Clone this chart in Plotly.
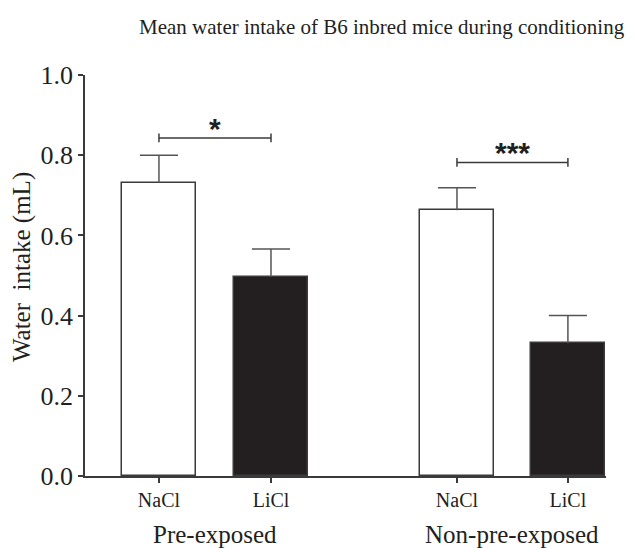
import plotly.graph_objects as go

# ---- data ----
groups = ["Pre-exposed", "Non-pre-exposed"]
categories = ["NaCl", "LiCl", "NaCl", "LiCl"]
means = [0.731, 0.497, 0.663, 0.331]
sem = [0.069, 0.069, 0.056, 0.069]
sig_levels = [0.843, 0.782]
sig_labels = ["*", "***"]
y_ticks = [0.0, 0.2, 0.4, 0.6, 0.8, 1.0]
title_text = "Mean water intake of B6 inbred mice during conditioning"
y_title = "Water  intake (mL)"

# ---- layout constants ----
positions = [0, 1, 2.66, 3.65]
fills = ["#ffffff", "#231f20", "#ffffff", "#231f20"]
SERIF = "Liberation Serif"
TXT = "#231f20"
CAP = 0.17  # half cap width in x units

fig = go.Figure()
fig.add_trace(go.Bar(
    x=positions, y=means, width=0.66,
    marker=dict(color=fills, line=dict(color="#3a3a3a", width=1.5)),
    showlegend=False, hoverinfo="skip",
))

# upward-only error bars
ex, ey = [], []
for p, m, s in zip(positions, means, sem):
    ex += [p, p, None, p - CAP, p + CAP, None]
    ey += [m, m + s, None, m + s, m + s, None]
fig.add_trace(go.Scatter(x=ex, y=ey, mode="lines",
                         line=dict(color="#555555", width=1.5),
                         showlegend=False, hoverinfo="skip"))

# significance brackets
cap = 0.011
for i, (lvl, lab) in enumerate(zip(sig_levels, sig_labels)):
    x0, x1 = positions[2 * i], positions[2 * i + 1]
    fig.add_shape(type="line", x0=x0, x1=x1, y0=lvl, y1=lvl,
                  line=dict(color="#3a3a3a", width=1.5))
    for xx in (x0, x1):
        fig.add_shape(type="line", x0=xx, x1=xx, y0=lvl - cap, y1=lvl + cap,
                      line=dict(color="#3a3a3a", width=1.5))
    fig.add_annotation(x=(x0 + x1) / 2, y=lvl, text="<b>%s</b>" % lab,
                       showarrow=False, yanchor="bottom", yshift=-9,
                       font=dict(family="Liberation Sans", size=30, color=TXT))

# group labels
for i, g in enumerate(groups):
    fig.add_annotation(x=(positions[2 * i] + positions[2 * i + 1]) / 2,
                       xref="x", yref="paper", y=-0.147, yanchor="middle",
                       text=g, showarrow=False,
                       font=dict(family=SERIF, size=25, color=TXT))

# y title
fig.add_annotation(xref="paper", yref="paper", x=-0.121, y=0.521,
                   text=y_title, textangle=-90, showarrow=False,
                   xanchor="center", yanchor="middle",
                   font=dict(family=SERIF, size=25, color=TXT))

# title
fig.add_annotation(xref="paper", yref="paper", x=0.57, y=1.0, yshift=48,
                   text=title_text, showarrow=False, xanchor="center",
                   yanchor="middle",
                   font=dict(family=SERIF, size=21, color=TXT))

fig.update_layout(
    width=639, height=548,
    margin=dict(l=85, r=33, t=75, b=72),
    plot_bgcolor="white", paper_bgcolor="white",
    bargap=0,
)
fig.update_xaxes(
    range=[-0.66, 3.99], tickvals=positions, ticktext=categories,
    showline=True, linecolor="#3a3a3a", linewidth=1.5,
    ticks="outside", ticklen=5, tickcolor="#3a3a3a", tickwidth=1.5,
    tickfont=dict(family=SERIF, size=20, color=TXT),
    showgrid=False, zeroline=False,
)
fig.update_yaxes(
    range=[0, 1.0], tickvals=y_ticks, tickformat=".1f",
    showline=True, linecolor="#3a3a3a", linewidth=1.5,
    ticks="outside", ticklen=5, tickcolor="#3a3a3a", tickwidth=1.5,
    tickfont=dict(family=SERIF, size=26, color=TXT),
    showgrid=False, zeroline=False,
)

fig.write_html("out.html")
